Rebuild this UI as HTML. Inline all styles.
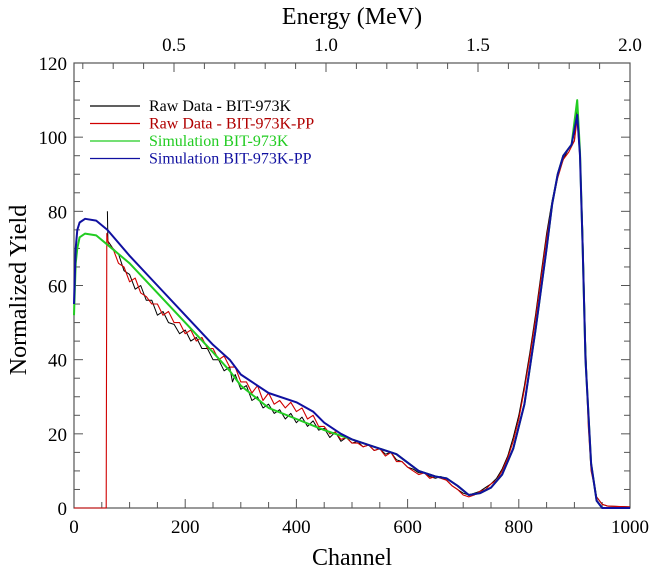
<!DOCTYPE html>
<html><head><meta charset="utf-8"><style>
body{margin:0;background:#fff;}
svg text{font-family:"Liberation Serif",serif;}
</style></head><body>
<svg id="chart" width="651" height="575">
<g id="axes"></g><g id="series"></g><g id="legend"></g>
</svg>
<script>
const xTicks=[0,200,400,600,800,1000];
const yTicks=[0,20,40,60,80,100,120];
const eTicks=[0.5,1.0,1.5,2.0];
const eLabels=["0.5","1.0","1.5","2.0"];
const simPPCh=[0,3,6,10,20,40,60,100,150,200,250,280,300,350,400,430,450,480,500,550,580,620,650,670,690,710,730,750,770,790,810,830,850,860,870,880,890,895,900,905,910,915,920,930,940,950,1000];
const simPPY=[55,70,75,77,78,77.5,75,68,60,52,44,40,36,31,28.5,26,23,20,18.5,16,14.5,10,8.5,8,6,3.5,4,5.5,9,16,28,48,70,82,90,95,97,98,102,106,95,70,40,12,2,0,0];
const simCh=[0,3,6,10,20,40,60,100,150,200,250,280,300,350,400,450,500,550,580,620,650,670,690,710,730,750,770,790,810,830,850,860,870,880,890,895,900,905,910,915,920,930,940,950,1000];
const simY=[52,66,70,73,74,73.5,71,66,58,50,42,37,33,27,24,21,18.5,16,14.5,10,8.5,8,6,3.5,4,5.5,9,16,28,48,70,82,90,95,97,98,104,110,96,70,40,12,2,0,0];
const rawCh=[60,61,70,80,90,100,110,120,130,140,150,160,170,180,190,200,210,220,230,240,250,260,270,280,285,290,300,310,320,330,340,350,360,370,380,390,400,410,420,430,440,450,460,470,480,490,500,510,520,530,540,550,560,570,580,590,600,610,620,630,640,650,660,670,680,690,700,710,720,730,740,750,760,770,780,790,800,810,820,830,840,850,860,870,880,890,900,905,910,915,920,925,930,940,950,960,1000];
const rawY=[80,72,70,68.5,64,63,59,60,56,56,52,53,50,49.5,47,48,45,46,43,43,40,40,37,38,34,36,32,33,29,30,27,28,25.5,26.5,24,25.5,23,24.5,22,23.5,21,21.5,19,20.5,18,19,17.5,18,16.5,17,15.5,16,14.5,15,13,12.5,11,10.5,9.5,9.5,8.5,8,8.5,7.5,6,5,4,3.5,4,4.5,5.5,6.5,8,10.5,14,19,25,33,42,52,63,74,83,90,94,97,99,108,96,75,45,25,12,3,1,0.5,0.3];
const redCh=[0,58,59,62,70,80,90,100,110,120,130,140,150,160,170,180,190,200,210,220,230,240,250,260,270,280,290,300,310,320,330,340,350,360,370,380,390,400,410,420,430,440,450,460,470,480,490,500,510,520,530,540,550,560,570,580,590,600,610,620,630,640,650,660,670,680,690,700,710,720,730,740,750,760,770,780,790,800,810,820,830,840,850,860,870,880,890,900,905,910,915,920,925,930,940,950,960,1000];
const redY=[0,0,74,71,70,66,65,61,62,58,57,55,55,52,53,50,50,47,48,45,46,43,43,40,41,38,38,34,34,31,33,29,31,28,29,27,28.5,26,27,24,25,22,22,20,20.5,18.5,19,17.5,17.5,16.5,17,15.5,16,14,15,12.5,12.5,11,10,9,9.5,8,8.5,8,7.5,6,5,3.5,3,3.5,4.5,5,6.5,7.5,10,13.5,18,24,32,41,51,62,73,82,89,94,96,99,105,94,72,42,22,10,3,1,0.5,0.3];
const X0=74,X1=630,Y0=508,Y1=63;
function sx(c){return X0+(c/1000)*(X1-X0);}
function sy(v){return Y0-(v/120)*(Y0-Y1);}
function se(e){return 174+(e-0.5)*304;}
const NS="http://www.w3.org/2000/svg";
function mk(t,a,p){const e=document.createElementNS(NS,t);for(const k in a)e.setAttribute(k,a[k]);p.appendChild(e);return e;}
const ax=document.getElementById('axes');
const fr=mk('rect',{x:X0,y:Y1,width:X1-X0,height:Y0-Y1,fill:'none',stroke:'#555','stroke-width':1.2},ax);


for(let c=0;c<=1000;c+=50){const x=sx(c),L=c%200===0?9:6;
 mk('line',{x1:x,y1:Y0,x2:x,y2:Y0-L,stroke:'#555'},ax);}
xTicks.forEach(c=>{const t=mk('text',{x:sx(c),y:Y0+25,'font-size':19,'text-anchor':'middle'},ax);t.textContent=c;
 
 });
for(let v=0;v<=120;v+=5){const y=sy(v),L=v%20===0?9:6;
 mk('line',{x1:X0,y1:y,x2:X0+L,y2:y,stroke:'#555'},ax);mk('line',{x1:X1,y1:y,x2:X1-L,y2:y,stroke:'#555'},ax);}
yTicks.forEach(v=>{const t=mk('text',{x:X0-7,y:sy(v)+7,'font-size':19,'text-anchor':'end'},ax);t.textContent=v;
 
 });
for(let e=0.2;e<=2.001;e+=0.1){const x=se(e);if(x<X0)continue;const maj=Math.abs(e*2-Math.round(e*2))<0.01;
 mk('line',{x1:x,y1:Y1,x2:x,y2:Y1+(maj?9:6),stroke:'#555'},ax);}
eTicks.forEach((e,i)=>{const t=mk('text',{x:se(e),y:Y1-12,'font-size':19,'text-anchor':'middle'},ax);t.textContent=eLabels[i];
 
 });
let t=mk('text',{x:352,y:565,'font-size':24,'text-anchor':'middle'},ax);t.textContent='Channel';


t=mk('text',{x:352,y:24,'font-size':24,'text-anchor':'middle'},ax);t.textContent='Energy (MeV)';


t=mk('text',{x:0,y:0,'font-size':24,'text-anchor':'middle',transform:'translate(26,290) rotate(-90)'},ax);t.textContent='Normalized Yield';


const sg=document.getElementById('series');
function line(ch,ys,col,w,name){const pts=ch.map((c,i)=>sx(c).toFixed(1)+','+sy(ys[i]).toFixed(1)).join(' ');
 const p=mk('polyline',{points:pts,fill:'none',stroke:col,'stroke-width':w,'stroke-linejoin':'round'},sg);
 
 }
line(rawCh,rawY,'#000',1,'raw-data-bit-973k');
line(redCh,redY,'#d00000',1.1,'raw-data-bit-973k-pp');
line(simCh,simY,'#22cc22',2,'simulation-bit-973k');
line(simPPCh,simPPY,'#1010a0',2,'simulation-bit-973k-pp');
const lg=document.getElementById('legend');
const items=[['Raw Data - BIT-973K','#000','#000'],['Raw Data - BIT-973K-PP','#d00000','#b00000'],['Simulation BIT-973K','#22cc22','#22cc22'],['Simulation BIT-973K-PP','#1010a0','#1010a0']];
items.forEach((it,i)=>{const y=106+i*17.5;
 const l=mk('line',{x1:90,y1:y,x2:140,y2:y,stroke:it[1],'stroke-width':1.3},lg);
 
 
 const tx=mk('text',{x:149,y:y+5,'font-size':16,fill:it[2]},lg);tx.textContent=it[0];
 
 });
</script>
</body></html>
